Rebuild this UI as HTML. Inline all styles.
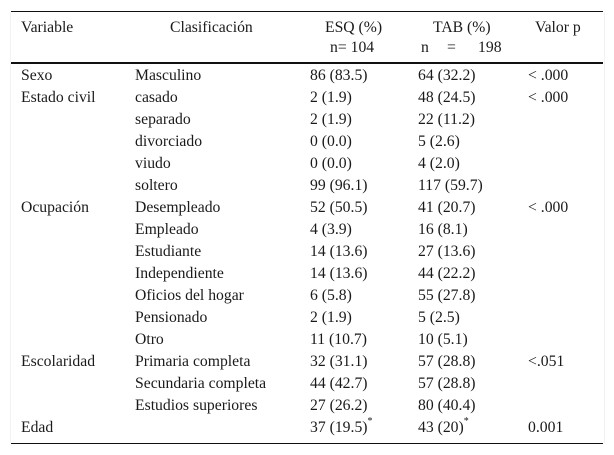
<!DOCTYPE html>
<html><head><meta charset="utf-8"><style>
html,body{margin:0;padding:0;background:#fff}
#t{position:relative;width:614px;height:455px;overflow:hidden;font:15.7px/16px "Liberation Serif",serif;color:#1a1a1a}
#t span{position:absolute;white-space:pre;margin-top:1px}
#t i{position:absolute;left:11px;width:592px;background:#111}
#t b{position:absolute;top:12px;height:431px;width:1px;background:#f2f2f2}
sup{font-size:10px;line-height:0;position:relative;top:-2px;vertical-align:super}
</style></head><body>
<div id="t">
<b style="left:10px"></b>
<b style="left:604px"></b>
<i style="top:11px;height:1px"></i>
<i style="top:62px;height:2px"></i>
<i style="top:443px;height:1px"></i>
<span style="left:21px;top:19px">Variable</span>
<span style="left:170px;top:19px">Clasificación</span>
<span style="left:325px;top:19px">ESQ (%)</span>
<span style="left:330px;top:39px">n= 104</span>
<span style="left:433px;top:19px">TAB (%)</span>
<span style="left:421px;top:39px">n</span>
<span style="left:447px;top:39px">=</span>
<span style="left:478px;top:39px">198</span>
<span style="left:535px;top:19px">Valor p</span>

<span style="left:21px;top:67px">Sexo</span>
<span style="left:135px;top:67px">Masculino</span>
<span style="left:310px;top:67px">86 (83.5)</span>
<span style="left:418px;top:67px">64 (32.2)</span>
<span style="left:528px;top:67px">&lt; .000</span>

<span style="left:21px;top:89px">Estado civil</span>
<span style="left:135px;top:89px">casado</span>
<span style="left:310px;top:89px">2 (1.9)</span>
<span style="left:418px;top:89px">48 (24.5)</span>
<span style="left:528px;top:89px">&lt; .000</span>

<span style="left:135px;top:111px">separado</span>
<span style="left:310px;top:111px">2 (1.9)</span>
<span style="left:418px;top:111px">22 (11.2)</span>

<span style="left:135px;top:133px">divorciado</span>
<span style="left:310px;top:133px">0 (0.0)</span>
<span style="left:418px;top:133px">5 (2.6)</span>

<span style="left:135px;top:155px">viudo</span>
<span style="left:310px;top:155px">0 (0.0)</span>
<span style="left:418px;top:155px">4 (2.0)</span>

<span style="left:135px;top:177px">soltero</span>
<span style="left:310px;top:177px">99 (96.1)</span>
<span style="left:418px;top:177px">117 (59.7)</span>

<span style="left:21px;top:199px">Ocupación</span>
<span style="left:135px;top:199px">Desempleado</span>
<span style="left:310px;top:199px">52 (50.5)</span>
<span style="left:418px;top:199px">41 (20.7)</span>
<span style="left:528px;top:199px">&lt; .000</span>

<span style="left:135px;top:221px">Empleado</span>
<span style="left:310px;top:221px">4 (3.9)</span>
<span style="left:418px;top:221px">16 (8.1)</span>

<span style="left:135px;top:243px">Estudiante</span>
<span style="left:310px;top:243px">14 (13.6)</span>
<span style="left:418px;top:243px">27 (13.6)</span>

<span style="left:135px;top:265px">Independiente</span>
<span style="left:310px;top:265px">14 (13.6)</span>
<span style="left:418px;top:265px">44 (22.2)</span>

<span style="left:135px;top:287px">Oficios del hogar</span>
<span style="left:310px;top:287px">6 (5.8)</span>
<span style="left:418px;top:287px">55 (27.8)</span>

<span style="left:135px;top:309px">Pensionado</span>
<span style="left:310px;top:309px">2 (1.9)</span>
<span style="left:418px;top:309px">5 (2.5)</span>

<span style="left:135px;top:331px">Otro</span>
<span style="left:310px;top:331px">11 (10.7)</span>
<span style="left:418px;top:331px">10 (5.1)</span>

<span style="left:21px;top:353px">Escolaridad</span>
<span style="left:135px;top:353px">Primaria completa</span>
<span style="left:310px;top:353px">32 (31.1)</span>
<span style="left:418px;top:353px">57 (28.8)</span>
<span style="left:528px;top:353px">&lt;.051</span>

<span style="left:135px;top:375px">Secundaria completa</span>
<span style="left:310px;top:375px">44 (42.7)</span>
<span style="left:418px;top:375px">57 (28.8)</span>

<span style="left:135px;top:397px">Estudios superiores</span>
<span style="left:310px;top:397px">27 (26.2)</span>
<span style="left:418px;top:397px">80 (40.4)</span>

<span style="left:21px;top:419px">Edad</span>
<span style="left:310px;top:419px">37 (19.5)<sup>*</sup></span>
<span style="left:418px;top:419px">43 (20)<sup>*</sup></span>
<span style="left:528px;top:419px">0.001</span>
</div>
</body></html>
